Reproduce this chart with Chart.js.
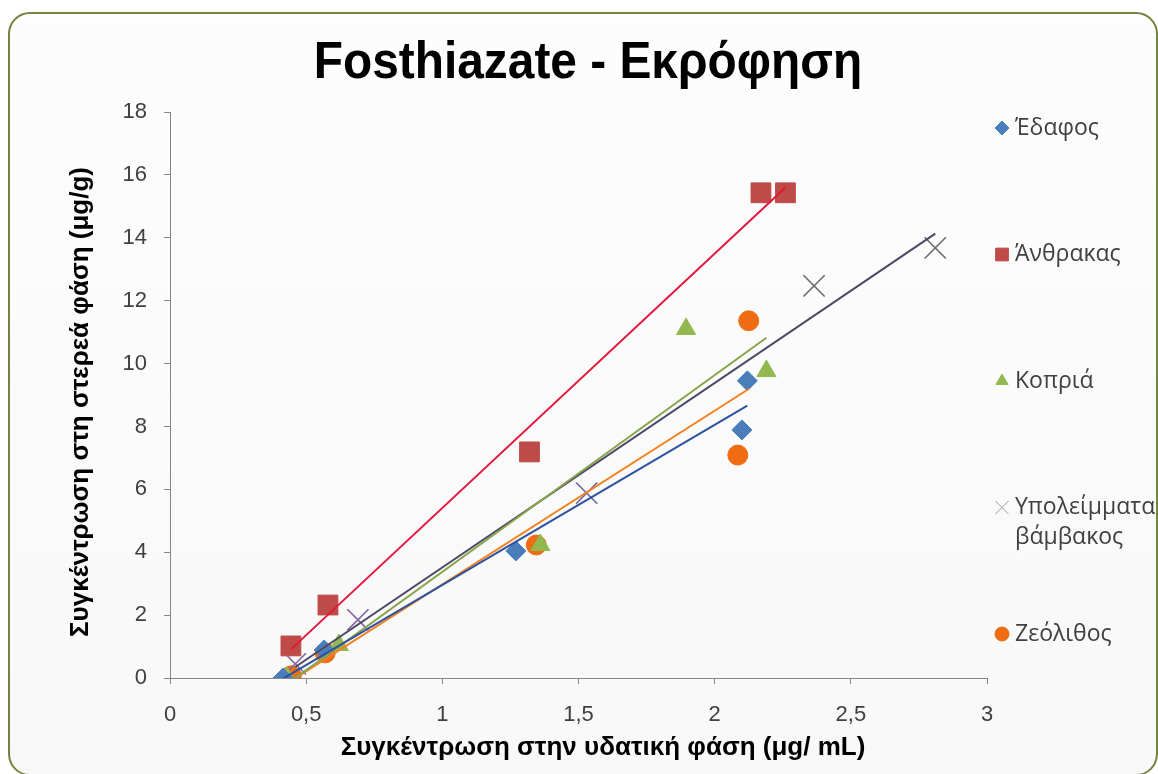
<!DOCTYPE html>
<html>
<head>
<meta charset="utf-8">
<title>Fosthiazate - Εκρόφηση</title>
<script src="https://cdn.jsdelivr.net/npm/chart.js@4.4.1/dist/chart.umd.min.js"></script>
<style>
  html, body { margin: 0; padding: 0; background: #fff; }
  #frame {
    position: absolute; left: 8px; top: 12px; width: 1146px; height: 760px;
    border: 2px solid #74833d; border-radius: 22px;
    background: linear-gradient(#fdfdfd, #f8f8f8);
  }
  #wrap { position: absolute; left: 0; top: 0; width: 1158px; height: 774px; }
</style>
</head>
<body>
<div id="frame"></div>
<div id="wrap"><canvas id="chart" width="1158" height="774"></canvas></div>
<script>
// series names (legend)
const seriesNames = ["Έδαφος", "Άνθρακας", "Κοπριά", "Υπολείμματα βάμβακος", "Ζεόλιθος"];
const chartTitle = "Fosthiazate - Εκρόφηση";
const xTitle = "Συγκέντρωση στην υδατική φάση (μg/ mL)";
const yTitle = "Συγκέντρωση στη στερεά φάση (μg/g)";

const soilX = [0.415, 0.566, 1.27, 2.10, 2.12];
const soilY = [0, 0.89, 4.04, 7.89, 9.45];
const carbonX = [0.444, 0.58, 1.32, 2.17, 2.26];
const carbonY = [1.02, 2.32, 7.19, 15.43, 15.43];
const manureX = [0.43, 0.62, 1.36, 1.895, 2.19];
const manureY = [0, 1.05, 4.23, 11.1, 9.76];
const cottonX = [0.46, 0.69, 1.53, 2.365, 2.81];
const cottonY = [0.45, 1.85, 5.88, 12.47, 13.68];
const zeoliteX = [0.445, 0.57, 1.345, 2.085, 2.125];
const zeoliteY = [0.07, 0.8, 4.23, 7.09, 11.36];

// trendline end points
const soilTrendX = [0.415, 2.12];
const soilTrendY = [-0.02, 8.66];
const carbonTrendX = [0.444, 2.26];
const carbonTrendY = [0.91, 15.6];
const manureTrendX = [0.43, 2.19];
const manureTrendY = [-0.19, 10.82];
const cottonTrendX = [0.46, 2.81];
const cottonTrendY = [0.35, 14.13];
const zeoliteTrendX = [0.445, 2.125];
const zeoliteTrendY = [-0.09, 9.19];

// axis ticks
const xTicks = [0, 0.5, 1, 1.5, 2, 2.5, 3];
const yTicks = [0, 2, 4, 6, 8, 10, 12, 14, 16, 18];

const toPoints = (xs, ys) => xs.map((x, i) => ({ x: x, y: ys[i] }));
const fmt = (v) => String(v).replace(".", ",");

const tickFont = { family: "'Liberation Sans', Arial, sans-serif", size: 22 };

function markerSet(name, xs, ys, style, color, radius, extra) {
  return Object.assign({
    type: "scatter",
    label: name,
    data: toPoints(xs, ys),
    pointStyle: style,
    pointRadius: radius,
    pointHoverRadius: radius,
    backgroundColor: color,
    borderColor: color,
    pointBorderWidth: 1,
    showLine: false,
    order: 2,
  }, extra || {});
}

function trendSet(xs, ys, color) {
  return {
    type: "scatter",
    label: "",
    data: toPoints(xs, ys),
    showLine: true,
    borderColor: color,
    borderWidth: 2,
    pointRadius: 0,
    pointHoverRadius: 0,
    fill: false,
    order: 1,
    isTrend: true,
  };
}

const datasets = [
  markerSet(seriesNames[0], soilX, soilY, "rectRot", "#4a7ebb", 10),
  markerSet(seriesNames[1], carbonX, carbonY, "rect", "#be4b48", 14),
  markerSet(seriesNames[2], manureX, manureY, "triangle", "#93b84f", 11),
  markerSet(seriesNames[3], cottonX, cottonY, "crossRot", "#7f64a0", 15, {
    pointBorderWidth: 1.6,
    borderColor: ["#7f64a0", "#7f64a0", "#6f62a0", "#6a6a6a", "#6a6a6a"],
  }),
  markerSet(seriesNames[4], zeoliteX, zeoliteY, "circle", "#ef6c13", 10),
  trendSet(soilTrendX, soilTrendY, "#2c52a0"),
  trendSet(carbonTrendX, carbonTrendY, "#e3163c"),
  trendSet(manureTrendX, manureTrendY, "#86a44a"),
  trendSet(cottonTrendX, cottonTrendY, "#4a4866"),
  trendSet(zeoliteTrendX, zeoliteTrendY, "#f5801c"),
];

// chart title and axis titles, placed where the original has them
const frameTitles = {
  id: "frameTitles",
  afterDraw(chart) {
    const ctx = chart.ctx;
    ctx.save();
    ctx.fillStyle = "#000";
    ctx.textAlign = "center";

    ctx.save();
    ctx.translate(588, 78);
    ctx.scale(0.92, 1);
    ctx.font = "bold 52px 'Liberation Sans', Arial, sans-serif";
    ctx.textBaseline = "alphabetic";
    ctx.fillText(chartTitle, 0, 0);
    ctx.restore();

    ctx.font = "bold 26px 'Liberation Sans', Arial, sans-serif";
    ctx.textBaseline = "middle";
    ctx.fillText(xTitle, 603, 748);

    ctx.translate(81, 402);
    ctx.rotate(-Math.PI / 2);
    ctx.fillText(yTitle, 0, 0);
    ctx.restore();
  },
};

// legend on the right, drawn by hand so spacing matches the original
const sideLegend = {
  id: "sideLegend",
  afterDraw(chart) {
    const ctx = chart.ctx;
    const markX = 1002, textX = 1015, top = 128, step = 126.5;
    ctx.save();
    ctx.font = "23px 'Open Sans', 'Noto Sans', sans-serif";
    ctx.textBaseline = "middle";
    chart.data.datasets.forEach((ds, i) => {
      if (ds.isTrend) return;
      const y = top + i * step;
      const col = Array.isArray(ds.borderColor) ? "#9a9a9a" : ds.borderColor;
      ctx.fillStyle = col;
      ctx.strokeStyle = col;
      Chart.helpers.drawPoint(ctx, {
        pointStyle: ds.pointStyle,
        radius: ds.pointStyle === "crossRot" ? 9 : (ds.pointStyle === "rect" ? 9 : 7),
        borderWidth: 1,
      }, markX, y);
      ctx.fillStyle = "#404040";
      const words = ds.label.split(" ");
      words.forEach((w, k) => ctx.fillText(w, textX, y + k * 30));
    });
    ctx.restore();
  },
};

new Chart(document.getElementById("chart"), {
  type: "scatter",
  data: { datasets: datasets },
  options: {
    responsive: false,
    animation: false,
    layout: { padding: { left: 50, right: 171, top: 112, bottom: 0 } },
    plugins: {
      legend: { display: false },
      tooltip: { enabled: false },
      title: { display: false },
    },
    scales: {
      x: {
        type: "linear",
        min: 0,
        max: 3,
        afterBuildTicks: (s) => { s.ticks = xTicks.map((v) => ({ value: v })); },
        afterFit: (s) => { s.height = 96; },
        ticks: { color: "#404040", font: tickFont, padding: 18, callback: (v) => fmt(v) },
        grid: { display: true, drawOnChartArea: false, drawTicks: true, tickLength: 6, color: "#868686" },
        border: { display: true, color: "#868686", width: 1 },
        title: { display: false },
      },
      y: {
        type: "linear",
        min: 0,
        max: 18,
        afterBuildTicks: (s) => { s.ticks = yTicks.map((v) => ({ value: v })); },
        afterFit: (s) => { s.width = 120; },
        ticks: { color: "#404040", font: tickFont, padding: 17, callback: (v) => fmt(v) },
        grid: { display: true, drawOnChartArea: false, drawTicks: true, tickLength: 6, color: "#868686" },
        border: { display: true, color: "#868686", width: 1 },
        title: { display: false },
      },
    },
  },
  plugins: [frameTitles, sideLegend],
});
</script>
</body>
</html>
